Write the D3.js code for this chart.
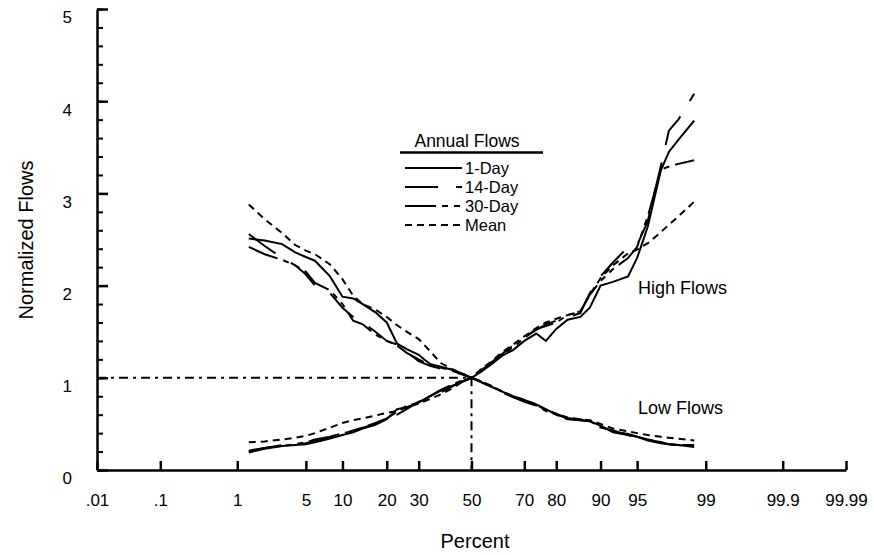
<!DOCTYPE html>
<html lang="en">
<head>
<meta charset="UTF-8">
<title>Annual flows - normalized flow frequency</title>
<script src="https://cdn.jsdelivr.net/npm/d3@7"></script>
<style>
  body { margin: 0; background: #fff; }
  svg { display: block; font-family: "Liberation Sans", Arial, sans-serif; }
</style>
</head>
<body>
<svg></svg>
<script>
// plotting positions (percent) shared by every curve
const percents = [1.35, 2, 3, 4, 5, 6, 8, 10, 12, 14, 17, 20, 23, 26, 30, 34, 38, 42, 46, 50,
                  54, 58, 62, 66, 70, 74, 77, 80, 83, 86, 88, 90, 92, 94, 95, 96, 97, 97.5, 98, 98.65];

// high flows (rising curves)
const high1Day  = [0.19, 0.23, 0.26, 0.27, 0.28, 0.30, 0.34, 0.38, 0.41, 0.45, 0.49, 0.55, 0.66, 0.68, 0.73, 0.80, 0.86, 0.91, 0.95, 1.00,
                   1.07, 1.15, 1.24, 1.30, 1.40, 1.48, 1.40, 1.53, 1.63, 1.66, 1.76, 2.00, 2.04, 2.10, 2.30, 2.64, 3.25, 3.45, 3.58, 3.79];
const high14Day = [0.20, 0.24, 0.27, 0.28, 0.29, 0.32, 0.35, 0.39, 0.43, 0.46, 0.50, 0.55, 0.60, 0.66, 0.74, 0.78, 0.84, 0.90, 0.96, 1.00,
                   1.08, 1.17, 1.26, 1.35, 1.44, 1.52, 1.58, 1.62, 1.66, 1.70, 1.92, 2.10, 2.25, 2.42, 2.44, 2.70, 3.30, 3.68, 3.80, 4.08];
const high30Day = [0.21, 0.24, 0.26, 0.28, 0.30, 0.33, 0.36, 0.40, 0.42, 0.46, 0.51, 0.56, 0.63, 0.70, 0.73, 0.80, 0.87, 0.92, 0.97, 1.00,
                   1.09, 1.16, 1.25, 1.33, 1.43, 1.53, 1.56, 1.60, 1.68, 1.72, 1.90, 2.05, 2.18, 2.30, 2.42, 2.75, 3.26, 3.29, 3.32, 3.36];
const highMean  = [0.30, 0.31, 0.33, 0.35, 0.37, 0.40, 0.46, 0.51, 0.54, 0.56, 0.59, 0.62, 0.64, 0.68, 0.72, 0.77, 0.82, 0.88, 0.95, 1.00,
                   1.10, 1.18, 1.28, 1.36, 1.45, 1.54, 1.60, 1.64, 1.68, 1.72, 1.90, 2.08, 2.22, 2.35, 2.39, 2.46, 2.58, 2.66, 2.75, 2.91];

// low flows (falling curves)
const low1Day  = [2.51, 2.49, 2.45, 2.36, 2.31, 2.27, 2.10, 1.88, 1.86, 1.80, 1.71, 1.60, 1.37, 1.31, 1.25, 1.15, 1.12, 1.09, 1.05, 1.00,
                  0.95, 0.90, 0.85, 0.80, 0.76, 0.71, 0.66, 0.60, 0.56, 0.54, 0.53, 0.48, 0.41, 0.38, 0.36, 0.32, 0.29, 0.28, 0.27, 0.25];
const low14Day = [2.56, 2.43, 2.30, 2.22, 2.12, 2.00, 1.92, 1.76, 1.66, 1.60, 1.50, 1.40, 1.36, 1.28, 1.18, 1.13, 1.10, 1.07, 1.04, 1.00,
                  0.95, 0.90, 0.84, 0.79, 0.75, 0.70, 0.65, 0.61, 0.56, 0.55, 0.53, 0.46, 0.43, 0.38, 0.35, 0.33, 0.30, 0.28, 0.27, 0.26];
const low30Day = [2.42, 2.34, 2.28, 2.22, 2.15, 2.03, 1.95, 1.80, 1.62, 1.58, 1.47, 1.40, 1.35, 1.27, 1.20, 1.14, 1.11, 1.08, 1.04, 1.00,
                  0.96, 0.91, 0.85, 0.79, 0.74, 0.70, 0.64, 0.60, 0.55, 0.54, 0.53, 0.47, 0.42, 0.39, 0.36, 0.33, 0.30, 0.28, 0.27, 0.27];
const lowMean  = [2.88, 2.72, 2.57, 2.44, 2.38, 2.34, 2.23, 2.07, 1.89, 1.80, 1.74, 1.66, 1.57, 1.50, 1.42, 1.29, 1.16, 1.10, 1.05, 1.00,
                  0.96, 0.91, 0.85, 0.80, 0.76, 0.71, 0.65, 0.61, 0.57, 0.55, 0.54, 0.50, 0.45, 0.42, 0.40, 0.38, 0.36, 0.35, 0.34, 0.32];

const seriesNames = ['1-Day', '14-Day', '30-Day', 'Mean'];
const percentTicks = [0.01, 0.1, 1, 5, 10, 20, 30, 50, 70, 80, 90, 95, 99, 99.9, 99.99];
const percentLabels = ['.01', '.1', '1', '5', '10', '20', '30', '50', '70', '80', '90', '95', '99', '99.9', '99.99'];
const flowTicks = [0, 1, 2, 3, 4, 5];
const flowMinorTicks = d3.range(0, 26).map(i => i / 5);

const svgWidth = 874;
const svgHeight = 555;
const dashes = { '1-Day': null, '14-Day': '33 18', '30-Day': '31 6 6 6 6 6', 'Mean': '7 5' };

// inverse of the standard normal cdf (Acklam)
function probit(p) {
    const a = [-3.969683028665376e+01, 2.209460984245205e+02, -2.759285104469687e+02, 1.383577518672690e+02, -3.066479806614716e+01, 2.506628277459239e+00];
    const b = [-5.447609879822406e+01, 1.615858368580409e+02, -1.556989798598866e+02, 6.680131188771972e+01, -1.328068155288572e+01];
    const c = [-7.784894002430293e-03, -3.223964580411365e-01, -2.400758277161838e+00, -2.549732539343734e+00, 4.374664141464968e+00, 2.938163982698783e+00];
    const d = [7.784695709041462e-03, 3.224671290700398e-01, 2.445134137142996e+00, 3.754408661907416e+00];
    const tail = q => (((((c[0]*q+c[1])*q+c[2])*q+c[3])*q+c[4])*q+c[5]) / ((((d[0]*q+d[1])*q+d[2])*q+d[3])*q+1);
    if (p < 0.02425) return tail(Math.sqrt(-2 * Math.log(p)));
    if (p > 1 - 0.02425) return -tail(Math.sqrt(-2 * Math.log(1 - p)));
    const q = p - 0.5, r = q * q;
    return (((((a[0]*r+a[1])*r+a[2])*r+a[3])*r+a[4])*r+a[5])*q / (((((b[0]*r+b[1])*r+b[2])*r+b[3])*r+b[4])*r+1);
}

const svg = d3.select('svg')
    .attr('width', svgWidth)
    .attr('height', svgHeight);

const zScale = d3.scaleLinear()
    .domain([probit(0.0001), probit(0.9999)])
    .range([97, 846]);
const x = p => zScale(probit(p / 100));

const yScale = d3.scaleLinear()
    .domain([0, 5])
    .range([470, 9]);

// axes
const xAxis = svg.append('g')
    .attr('transform', `translate(0,${yScale(0)})`)
    .call(d3.axisBottom(zScale)
        .tickValues(percentTicks.map(p => probit(p / 100)))
        .tickFormat((d, i) => percentLabels[i])
        .tickSize(-9)
        .tickSizeOuter(0));
xAxis.selectAll('text').attr('y', 36).attr('dy', null)
    .attr('font-size', 17).attr('font-family', 'Liberation Sans, Arial, sans-serif');

const yMinor = svg.append('g')
    .attr('transform', `translate(${zScale.range()[0]},0)`)
    .call(d3.axisLeft(yScale).tickValues(flowMinorTicks).tickFormat('').tickSize(-6).tickSizeOuter(0));
yMinor.select('.domain').remove();

const yAxis = svg.append('g')
    .attr('transform', `translate(${zScale.range()[0]},0)`)
    .call(d3.axisLeft(yScale).tickValues(flowTicks).tickFormat(d3.format('d')).tickSize(-11).tickSizeOuter(0));
yAxis.selectAll('text').attr('x', -25).attr('y', 8).attr('dy', '0.35em')
    .attr('font-size', 17).attr('font-family', 'Liberation Sans, Arial, sans-serif');

svg.selectAll('.domain, .tick line')
    .attr('stroke', '#000')
    .attr('stroke-width', 2.5);
yMinor.selectAll('.tick line').attr('stroke-width', 2);

// reference lines at the median
svg.append('path')
    .attr('d', d3.line()([[x(0.01), yScale(1)], [x(50), yScale(1)], [x(50), yScale(0)]]))
    .attr('fill', 'none')
    .attr('stroke', '#000')
    .attr('stroke-width', 2)
    .attr('stroke-dasharray', '9 5 3 5');

// curves
const line = d3.line()
    .x((d, i) => x(percents[i]))
    .y(d => yScale(d));

const curves = [
    { name: '1-Day', values: high1Day }, { name: '14-Day', values: high14Day },
    { name: '30-Day', values: high30Day }, { name: 'Mean', values: highMean },
    { name: '1-Day', values: low1Day }, { name: '14-Day', values: low14Day },
    { name: '30-Day', values: low30Day }, { name: 'Mean', values: lowMean }
];

svg.selectAll('.curve')
    .data(curves)
    .enter()
    .append('path')
    .attr('class', 'curve')
    .attr('d', d => line(d.values))
    .attr('fill', 'none')
    .attr('stroke', '#000')
    .attr('stroke-width', 2)
    .attr('stroke-dasharray', d => dashes[d.name]);

// curve labels
svg.append('text').attr('x', 638).attr('y', 294).attr('font-size', 18).text('High Flows');
svg.append('text').attr('x', 638).attr('y', 414).attr('font-size', 18).text('Low Flows');

// legend
const legend = svg.append('g');
legend.append('text')
    .attr('x', 467).attr('y', 147)
    .attr('text-anchor', 'middle')
    .attr('font-size', 17.5)
    .text('Annual Flows');
legend.append('line')
    .attr('x1', 400).attr('x2', 543)
    .attr('y1', 152.5).attr('y2', 152.5)
    .attr('stroke', '#000').attr('stroke-width', 2.5);

const rows = legend.selectAll('.row')
    .data(seriesNames)
    .enter()
    .append('g')
    .attr('class', 'row')
    .attr('transform', (d, i) => `translate(0,${174 + i * 19})`);
rows.append('line')
    .attr('x1', 405).attr('x2', 462)
    .attr('y1', -6).attr('y2', -6)
    .attr('stroke', '#000').attr('stroke-width', 2)
    .attr('stroke-dasharray', d => dashes[d]);
rows.append('text')
    .attr('x', 465)
    .attr('font-size', 16.5)
    .text(d => d);

// axis titles
svg.append('text')
    .attr('x', 475).attr('y', 548)
    .attr('text-anchor', 'middle')
    .attr('font-size', 20)
    .text('Percent');
svg.append('text')
    .attr('transform', 'translate(33,240) rotate(-90)')
    .attr('text-anchor', 'middle')
    .attr('font-size', 20)
    .text('Normalized Flows');
</script>
</body>
</html>
